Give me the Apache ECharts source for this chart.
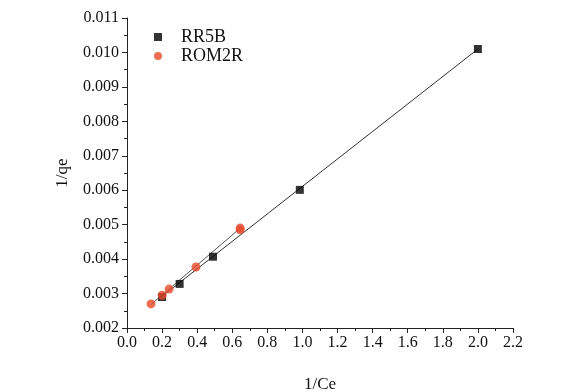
<!DOCTYPE html>
<html>
<head>
<meta charset="utf-8">
<script src="https://cdn.jsdelivr.net/npm/echarts@6/dist/echarts.min.js"></script>
<style>
html,body{margin:0;padding:0;background:#fff;}
#chart{width:585px;height:391px;}
</style>
</head>
<body>
<div id="chart"></div>
<script>
// 数据
var rr5bX=[0.2,0.3,0.49,0.985,2.0];
var rr5bY=[0.0029,0.00328,0.00407,0.00601,0.0101];
var rom2rX=[0.137,0.2,0.24,0.393,0.645,0.645];
var rom2rY=[0.0027,0.00295,0.00313,0.00377,0.00485,0.0049];
// 拟合线两端
var rr5bFitX=[0.19,2.0];
var rr5bFitY=[0.00288,0.0101];
var rom2rFitX=[0.137,0.65];
var rom2rFitY=[0.00268,0.00492];

function pairs(xs,ys)
{
	var out=[];
	for(var i=0;i<xs.length;i++)
	{
		out.push([xs[i],ys[i]]);
	}
	return out;
}

var font='"Liberation Serif","DejaVu Serif",serif';
var myChart=echarts.init(document.getElementById('chart'));
var option={
	backgroundColor:'#ffffff',
	animation:false,
	grid:{left:127,right:72,top:18,bottom:63,outerBoundsMode:'none',containLabel:false},
	legend:{
		orient:'vertical',
		left:149,
		top:23,
		itemGap:1,
		itemWidth:8,
		itemHeight:8,
		textStyle:{fontFamily:font,fontSize:18,color:'#111',padding:[0,0,0,14]},
		data:[{name:'RR5B',icon:'rect'},{name:'ROM2R',icon:'circle'}]
	},
	xAxis:{
		type:'value',
		min:0,
		max:2.2,
		interval:0.2,
		name:'1/Ce',
		nameLocation:'middle',
		nameGap:48,
		nameTextStyle:{fontFamily:font,fontSize:17,color:'#111'},
		splitLine:{show:false},
		axisLine:{lineStyle:{color:'#222',width:1}},
		axisTick:{inside:false,length:5,lineStyle:{color:'#222'}},
		minorTick:{show:true,splitNumber:2,length:3,lineStyle:{color:'#222'}},
		axisLabel:{fontFamily:font,fontSize:16,color:'#111',margin:7,
			formatter:function(v){return v.toFixed(1);}}
	},
	yAxis:{
		type:'value',
		min:0.002,
		max:0.011,
		interval:0.001,
		name:'1/qe',
		nameLocation:'middle',
		nameGap:56,
		nameRotate:90,
		nameTextStyle:{fontFamily:font,fontSize:17,color:'#111'},
		splitLine:{show:false},
		axisLine:{show:true,lineStyle:{color:'#222',width:1}},
		axisTick:{show:true,inside:false,length:5,lineStyle:{color:'#222'}},
		minorTick:{show:true,splitNumber:2,length:3,lineStyle:{color:'#222'}},
		axisLabel:{fontFamily:font,fontSize:16,color:'#111',margin:8,
			formatter:function(v){return v.toFixed(3);}}
	},
	series:[
		{
			name:'RR5B fit',
			type:'line',
			data:pairs(rr5bFitX,rr5bFitY),
			symbol:'none',
			lineStyle:{color:'#333',width:1},
			silent:true,
			z:1
		},
		{
			name:'ROM2R fit',
			type:'line',
			data:pairs(rom2rFitX,rom2rFitY),
			symbol:'none',
			lineStyle:{color:'#555',width:1},
			silent:true,
			z:1
		},
		{
			name:'RR5B',
			type:'scatter',
			data:pairs(rr5bX,rr5bY),
			symbol:'rect',
			symbolSize:8,
			itemStyle:{color:'#000'},
			z:3
		},
		{
			name:'ROM2R',
			type:'scatter',
			data:pairs(rom2rX,rom2rY),
			symbol:'circle',
			symbolSize:9,
			itemStyle:{color:'#ea4a2a'},
			z:4
		}
	]
};
myChart.setOption(option);
</script>
</body>
</html>
